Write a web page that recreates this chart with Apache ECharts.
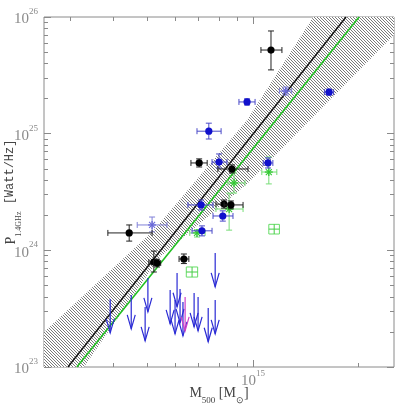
<!DOCTYPE html>
<html>
<head>
<meta charset="utf-8">
<script src="https://cdn.jsdelivr.net/npm/echarts@6/dist/echarts.min.js"></script>
<style>
  html, body { margin: 0; padding: 0; background: #fff; }
  #chart { width: 401px; height: 404px; }
</style>
</head>
<body>
<div id="chart"></div>
<script>
// masses in 1e14 Msun, radio powers in 1e24 W/Hz
// rows: [M, Mlo, Mhi, P, Plo, Phi]
const blackPts = [
  [11.26, 10.54, 12.1, 52.1, 35.2, 75.9],
  [4.43, 3.85, 5.15, 1.41, 1.20, 1.65],
  [5.21, 5.04, 5.38, 0.794, 0.652, 0.986],
  [5.32, 5.2, 5.45, 0.778, 0.72, 0.84],
  [6.35, 6.15, 6.56, 0.843, 0.77, 0.93],
  [7.02, 6.65, 7.40, 5.61, 5.18, 6.08],
  [8.71, 7.94, 9.68, 4.98, 4.6, 5.4],
  [8.27, 7.84, 8.7, 2.49, 2.3, 2.7],
  [8.65, 8.27, 9.37, 2.45, 2.27, 2.65]
];
const bluePts = [
  [9.62, 9.12, 10.14, 18.7, 17.6, 19.9],
  [16.5, 16.0, 17.0, 22.7, 21.4, 24.1],
  [7.48, 6.92, 8.11, 10.5, 9.0, 12.3],
  [8.0, 7.64, 8.43, 5.71, 5.08, 6.70],
  [11.04, 10.7, 11.4, 5.61, 5.08, 6.2],
  [7.11, 6.52, 7.69, 2.45, 2.22, 2.7],
  [8.2, 7.69, 8.77, 1.97, 1.78, 2.18],
  [7.15, 6.70, 7.64, 1.47, 1.33, 1.62]
];
const purplePts = [
  [5.15, 4.67, 5.68, 1.65, 1.44, 1.93],
  [12.4, 11.9, 12.9, 23.2, 21.4, 25.1]
];
const greenPts = [
  [11.1, 10.6, 11.7, 4.69, 3.71, 6.31],
  [8.83, 8.48, 9.49, 3.78, 3.1, 4.6],
  [8.55, 7.84, 9.37, 2.26, 1.49, 3.09],
  [6.92, 6.6, 7.3, 1.41, 1.3, 1.5]
];
const greenBoxPts = [
  [11.5, 11.1, 11.9, 1.52, 1.38, 1.67],
  [6.70, 6.45, 6.95, 0.652, 0.59, 0.72]
];
// upper limits [M, P]
const blueLimits = [
  [3.91, 0.383], [4.49, 0.414], [5.01, 0.579], [4.92, 0.327], [5.80, 0.457],
  [6.07, 0.640], [5.99, 0.375], [6.19, 0.466], [6.31, 0.361], [6.79, 0.431],
  [6.97, 0.398], [7.45, 0.321], [7.80, 0.375], [7.80, 0.948]
];
const magentaLimits = [[6.40, 0.398]];
// fits [M, P]
const blackFit = [[2.96, 0.1], [18.45, 100]];
const greenFit = [[3.14, 0.1], [20.1, 100]];
// confidence band outline [M, P]
const band = [
  [2.53, 0.2], [5.21, 1.49], [9.62, 13.1], [14.86, 100], [25.3, 100],
  [25.3, 70.2], [9.68, 3.78], [5.42, 0.877], [3.29, 0.1], [2.53, 0.1]
];
// ticks
const xMajorTicks = [10];
const xMinorTicks = [3, 4, 5, 6, 7, 8, 9, 20];
const yMajorTicks = [23, 24, 25, 26];
const yMinorTicks = [2, 3, 4, 5, 6, 7, 8, 9];

const mx = m => 14 + Math.log10(m);
const py = p => 24 + Math.log10(p);
const ARROW_DEX = 0.29;

const xMaj = xMajorTicks.map(mx);
const xMin = xMinorTicks.map(mx);
const yMaj = yMajorTicks;
const yMin = [];
[23, 24, 25].forEach(d => yMinorTicks.forEach(k => yMin.push(d + Math.log10(k))));

const hatch = document.createElement('canvas');
hatch.width = 3; hatch.height = 3;
const hg = hatch.getContext('2d');
hg.fillStyle = '#ffffff'; hg.fillRect(0, 0, 3, 3);
hg.fillStyle = '#7a7a7a';
hg.fillRect(0, 0, 1, 1); hg.fillRect(1, 1, 1, 1); hg.fillRect(2, 2, 1, 1);

const chart = echarts.init(document.getElementById('chart'));

const labelFont = 'Liberation Serif';
const tickRich = {
  b: { fontSize: 15, lineHeight: 20, verticalAlign: 'bottom', color: '#8a8a8a', fontFamily: labelFont },
  s: { fontSize: 9, lineHeight: 9, verticalAlign: 'top', color: '#8a8a8a', fontFamily: labelFont }
};
const fmt = v => '{b|10}{s|' + Math.round(v) + '}';

function ln(a, b, c, d, col, w) {
  return { type: 'line', shape: { x1: a, y1: b, x2: c, y2: d }, style: { stroke: col, lineWidth: w || 1 } };
}

function errItem(kind, mark, bar) {
  return function (params, api) {
    const x = api.value(0), y = api.value(3);
    const c = api.coord([x, y]);
    const x1 = api.coord([api.value(1), y])[0], x2 = api.coord([api.value(2), y])[0];
    const y1 = api.coord([x, api.value(4)])[1], y2 = api.coord([x, api.value(5)])[1];
    const cap = 3;
    const kids = [];
    if (kind === 'box') {
      kids.push({ type: 'rect', shape: { x: x1, y: y2, width: x2 - x1, height: y1 - y2 }, style: { stroke: bar, fill: null, lineWidth: 1 } });
      kids.push(ln(x1, c[1], x2, c[1], mark), ln(c[0], y1, c[0], y2, mark));
    } else {
      kids.push(
        ln(x1, c[1], x2, c[1], bar), ln(x1, c[1] - cap, x1, c[1] + cap, bar), ln(x2, c[1] - cap, x2, c[1] + cap, bar),
        ln(c[0], y1, c[0], y2, bar), ln(c[0] - cap, y1, c[0] + cap, y1, bar), ln(c[0] - cap, y2, c[0] + cap, y2, bar)
      );
    }
    if (kind === 'dot') {
      kids.push({ type: 'circle', shape: { cx: c[0], cy: c[1], r: 3.6 }, style: { fill: mark } });
    } else if (kind === 'star') {
      const s = 4;
      kids.push(ln(c[0] - s, c[1], c[0] + s, c[1], mark, 1.3), ln(c[0], c[1] - s, c[0], c[1] + s, mark, 1.3),
        ln(c[0] - 3, c[1] - 3, c[0] + 3, c[1] + 3, mark, 1.1), ln(c[0] - 3, c[1] + 3, c[0] + 3, c[1] - 3, mark, 1.1));
    }
    return { type: 'group', children: kids };
  };
}

function arrowItem(col) {
  return function (params, api) {
    const t = api.coord([api.value(0), api.value(1)]);
    const b = api.coord([api.value(0), api.value(1) - ARROW_DEX]);
    return {
      type: 'group',
      children: [
        ln(t[0], t[1], b[0], b[1], col, 1.2),
        { type: 'polyline', shape: { points: [[b[0] - 4, b[1] - 14], [b[0], b[1]], [b[0] + 4, b[1] - 14]] },
          style: { stroke: col, lineWidth: 1.2, fill: null } }
      ]
    };
  };
}

const toErr = rows => rows.map(r => [mx(r[0]), mx(r[1]), mx(r[2]), py(r[3]), py(r[4]), py(r[5])]);
const toXY = rows => rows.map(r => [mx(r[0]), py(r[1])]);

function xAx(pos, ticks, len, withLabel) {
  return {
    type: 'value', min: 14.403, max: 15.403, position: pos,
    axisLine: { show: false }, splitLine: { show: false },
    axisTick: { show: true, inside: true, length: len, customValues: ticks, lineStyle: { color: '#8a8a8a' } },
    axisLabel: withLabel ? { show: true, customValues: ticks, formatter: fmt, rich: tickRich, margin: 2 } : { show: false }
  };
}
function yAx(pos, ticks, len, withLabel) {
  return {
    type: 'value', min: 23, max: 26, position: pos,
    axisLine: { show: false }, splitLine: { show: false },
    axisTick: { show: true, inside: true, length: len, customValues: ticks, lineStyle: { color: '#8a8a8a' } },
    axisLabel: withLabel ? { show: true, customValues: ticks, formatter: fmt, rich: tickRich, margin: 6, showMinLabel: true, showMaxLabel: true } : { show: false }
  };
}

const xAxes = [xAx('bottom', xMaj, 7, true), xAx('bottom', xMin, 4), xAx('top', xMaj, 7), xAx('top', xMin, 4)];
const yAxes = [yAx('left', yMaj, 7, true), yAx('left', yMin, 4), yAx('right', yMaj, 7), yAx('right', yMin, 4)];

xAxes[0].name = '{m|M}{s|500}{t| [M}{s|⊙}{t|]}';
xAxes[0].nameLocation = 'middle';
xAxes[0].nameGap = 19;
xAxes[0].nameMoveOverlap = false;
xAxes[0].nameTextStyle = {
  rich: {
    m: { fontSize: 14, lineHeight: 19, verticalAlign: 'top', color: '#444', fontFamily: labelFont },
    t: { fontSize: 14, lineHeight: 19, verticalAlign: 'top', color: '#444', fontFamily: labelFont },
    s: { fontSize: 9, lineHeight: 9, verticalAlign: 'bottom', color: '#444', fontFamily: labelFont }
  }
};
yAxes[0].name = '{m|P}{s|1.4GHz}{t| [Watt/Hz]}';
yAxes[0].nameLocation = 'middle';
yAxes[0].nameRotate = 90;
yAxes[0].nameGap = 21;
yAxes[0].nameMoveOverlap = false;
yAxes[0].nameTextStyle = {
  rich: {
    m: { fontSize: 14, lineHeight: 19, verticalAlign: 'top', color: '#444', fontFamily: labelFont },
    t: { fontSize: 12, lineHeight: 19, verticalAlign: 'top', color: '#444', fontFamily: 'Liberation Mono' },
    s: { fontSize: 8, lineHeight: 8, verticalAlign: 'bottom', color: '#444', fontFamily: labelFont }
  }
};

chart.setOption({
  animation: false,
  backgroundColor: '#fff',
  grid: { left: 44, right: 7, top: 17, bottom: 37, show: true, borderColor: '#8a8a8a', borderWidth: 1, outerBoundsMode: 'none' },
  xAxis: xAxes,
  yAxis: yAxes,
  series: [
    {
      type: 'custom', clip: true, data: [[0, 0]],
      renderItem: function (params, api) {
        return { type: 'polygon', shape: { points: band.map(p => api.coord([mx(p[0]), py(p[1])])) },
          style: { fill: { image: hatch, repeat: 'repeat' }, stroke: null } };
      },
      silent: true, z: 1
    },
    { type: 'line', data: toXY(blackFit), symbol: 'none', lineStyle: { color: '#111', width: 1.4 }, z: 2 },
    { type: 'line', data: toXY(greenFit), symbol: 'none', lineStyle: { color: '#22c022', width: 1.6 }, z: 2 },
    { type: 'custom', data: toXY(blueLimits), renderItem: arrowItem('#2a2ad4'), encode: { x: 0, y: 1 }, z: 3 },
    { type: 'custom', data: toXY(magentaLimits), renderItem: arrowItem('#d040c8'), encode: { x: 0, y: 1 }, z: 3 },
    { type: 'custom', data: toErr(greenBoxPts), renderItem: errItem('box', '#44cc44', '#66dd66'), encode: { x: 0, y: 3 }, z: 4 },
    { type: 'custom', data: toErr(greenPts), renderItem: errItem('star', '#33c833', '#77dd77'), encode: { x: 0, y: 3 }, z: 4 },
    { type: 'custom', data: toErr(purplePts), renderItem: errItem('star', '#6a6ad8', '#8080d8'), encode: { x: 0, y: 3 }, z: 5 },
    { type: 'custom', data: toErr(bluePts), renderItem: errItem('dot', '#1010cc', '#4a4ac8'), encode: { x: 0, y: 3 }, z: 5 },
    { type: 'custom', data: toErr(blackPts), renderItem: errItem('dot', '#000', '#222'), encode: { x: 0, y: 3 }, z: 6 }
  ]
});
</script>
</body>
</html>
